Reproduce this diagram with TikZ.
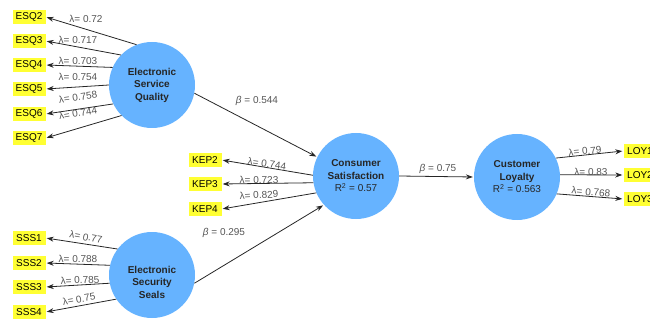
\documentclass[tikz,border=0pt]{standalone}
\usepackage{fontspec}
\setmainfont{Liberation Sans}
\usetikzlibrary{positioning,arrows.meta,calc}
\definecolor{accentblue}{HTML}{66B3FF}
\definecolor{accentyellow}{HTML}{FFFF33}
\definecolor{accentline}{HTML}{262626}
\definecolor{accentgray}{HTML}{555555}

\begin{document}
\begin{tikzpicture}[x=1pt,y=-1pt,
  construct/.style={circle, fill=accentblue, minimum size=86pt, inner sep=0pt},
  constructtext/.style={align=center, font=\fontsize{10}{12.5}\selectfont\bfseries, text=black!85},
  indicator/.style={fill=accentyellow, minimum width=33pt, minimum height=14pt, inner sep=0pt, font=\fontsize{10}{12}\selectfont},
  loading/.style={draw=accentline, line width=0.8pt, -{Stealth[length=7pt,width=5pt]}, shorten >=1pt},
  coef/.style={text=accentgray, font=\fontsize{10}{12}\selectfont, inner sep=0pt}]
\useasboundingbox (0,0) rectangle (650,323);
\node[construct, constructtext] (esq) at (152,85) {Electronic\\Service\\Quality};
\node[construct, label={[constructtext, yshift=-7pt]center:{Electronic\\Security\\Seals}}] (sss) at (152,275) {};
\node[construct, constructtext] (cs) at (356,176) {Consumer\\Satisfaction\\{\mdseries R\textsuperscript{2} = 0.57}};
\node[construct, constructtext] (cl) at (517,177) {Customer\\Loyalty\\{\mdseries R\textsuperscript{2} = 0.563}};
\draw[loading] (esq.-11) -- (cs.154);
\draw[loading] (sss.-11) -- (cs.222);
\draw[loading] (cs.east) -- (cl.west);
\node[coef] (besq) at (257,101) {\textit{β} = 0.544};
\node[coef] (bsss) at (224,233) {\textit{β} = 0.295};
\node[coef] (bcs) at (438,169) {\textit{β} = 0.75};
\foreach \n/\y/\a/\lx/\ly/\r/\v in {2/17/111/86/19/0/0.72,3/41/136/78/40/0/0.717,4/65/156/78/61/0/0.703,5/89/180/78/77/0/0.754,6/114/206/78/97/8/0.758,7/138/225/78/113/10/0.744} {
  \node[indicator] (esq\n) at (29,\y) {ESQ\n};
  \draw[loading] (esq.\a) -- (esq\n.east);
  \node[coef, rotate=\r] (lesq\n) at (\lx,\ly) {λ= \v};
}
\foreach \n/\y/\a/\lx/\ly/\r/\v in {1/238/143/86/237/-10/0.77,2/263/167/78/259/0/0.788,3/287/191/80/280/2/0.785,4/312/214/79/299/10/0.75} {
  \node[indicator] (sss\n) at (29,\y) {SSS\n};
  \draw[loading] (sss.\a) -- (sss\n.east);
  \node[coef, rotate=\r] (lsss\n) at (\lx,\ly) {λ= \v};
}
\foreach \n/\y/\a/\lx/\ly/\r/\v in {2/160/179/267/164/-8/0.744,3/184/189/259/180/0/0.723,4/209/203/259/195/3/0.829} {
  \node[indicator] (kep\n) at (205,\y) {KEP\n};
  \draw[loading] (cs.\a) -- (kep\n.east);
  \node[coef, rotate=\r] (lkep\n) at (\lx,\ly) {λ= \v};
}
\foreach \n/\y/\a/\lx/\ly/\r/\v in {1/151/26/585/151/5/0.79,2/175/3/591/172/0/0.83,3/199/-23/591/192/-5/0.768} {
  \node[indicator] (loy\n) at (640,\y) {LOY\n};
  \draw[loading] (cl.\a) -- (loy\n.west);
  \node[coef, rotate=\r] (lloy\n) at (\lx,\ly) {λ= \v};
}
\end{tikzpicture}
\end{document}
